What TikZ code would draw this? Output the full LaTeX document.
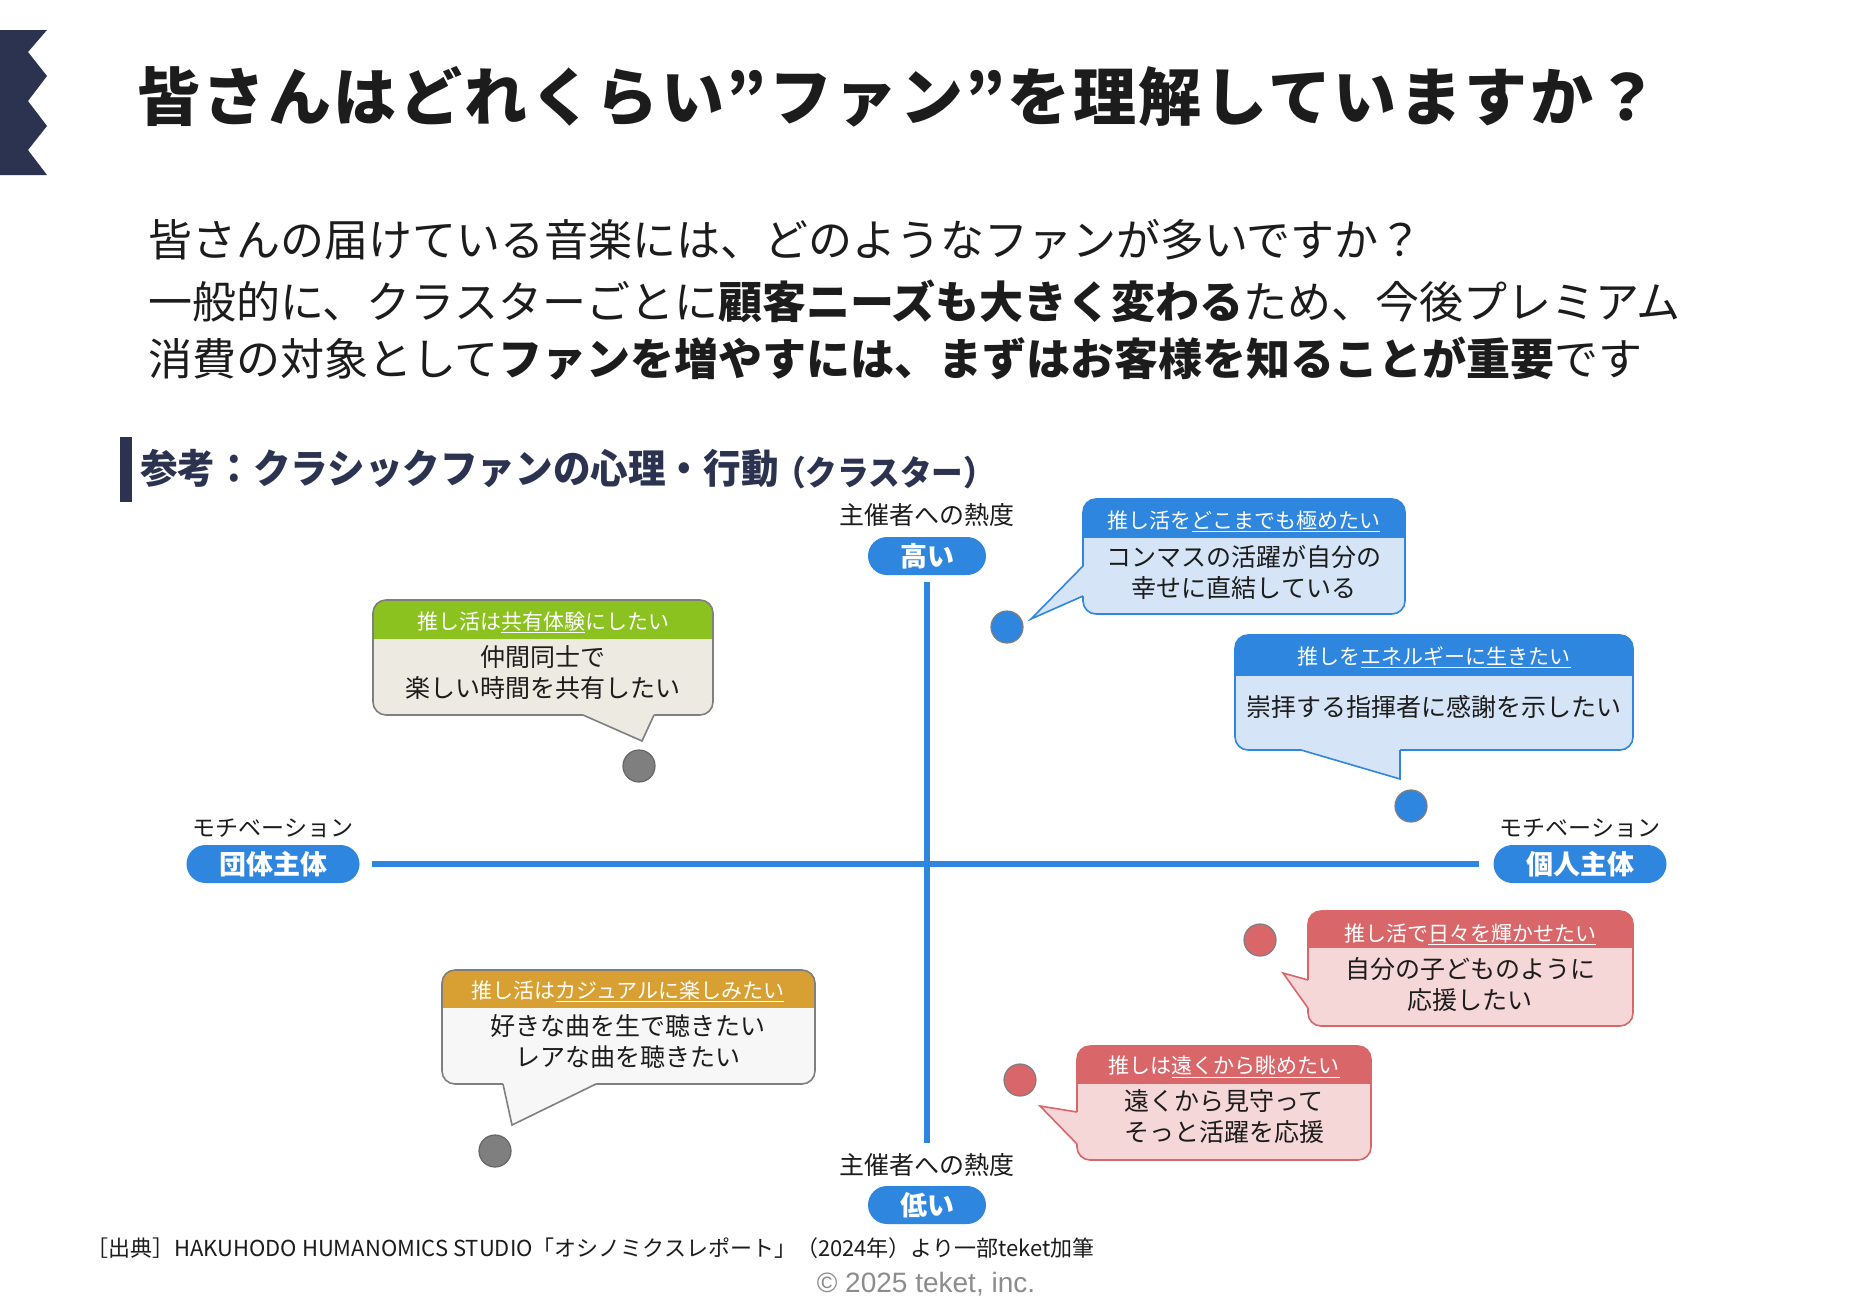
\documentclass[tikz,border=0pt]{standalone}
\usepackage{fontspec}
\setmainfont{Noto Sans CJK JP}
\newfontfamily\arialf{Liberation Sans}
\usetikzlibrary{calc}
\definecolor{axisblue}{HTML}{2F86DF}
\definecolor{navy}{HTML}{2B3350}
\definecolor{bluebody}{HTML}{D5E5F7}
\definecolor{greenhead}{HTML}{8CC21F}
\definecolor{greenbody}{HTML}{EDEAE1}
\definecolor{goldhead}{HTML}{D8A032}
\definecolor{goldbody}{HTML}{F7F7F7}
\definecolor{redhead}{HTML}{D9676A}
\definecolor{redbody}{HTML}{F6D7D8}
\definecolor{bordergray}{HTML}{7F7F7F}
\definecolor{dotgray}{HTML}{7F7F7F}
\definecolor{inkblack}{HTML}{1C1C1C}
\definecolor{copygray}{HTML}{8C8C8C}
\newcommand\fs[2]{\fontsize{#1}{#2}\selectfont}
% box: x1,y1,x2,y2,header bottom, head colour, body colour, border colour
\newcommand\bubblebox[8]{%
  \begin{scope}
    \clip[rounded corners=13pt] (#1,#2) rectangle (#3,#4);
    \fill[#7] (#1,#2) rectangle (#3,#4);
    \fill[#6] (#1,#2) rectangle (#3,#5);
  \end{scope}
  \draw[#8, line width=1.6pt, rounded corners=13pt] (#1,#2) rectangle (#3,#4);
}
% tail: base1, base2, tip, body colour, border colour, inward offset
\newcommand\bubbletail[6]{%
  \fill[#4] ($(#1)+(#6)$) -- (#1) -- (#3) -- (#2) -- ($(#2)+(#6)$) -- cycle;
  \draw[#5, line width=1.6pt, line join=miter] (#1) -- (#3) -- (#2);
}
\tikzset{
  pill/.style={fill=axisblue, rounded corners=19pt, minimum height=38pt, text=white,
    font=\bfseries\fs{27}{30}, inner sep=0pt},
  axislabel/.style={text=inkblack, inner sep=0pt},
  axisline/.style={draw=axisblue, line width=6pt},
  headtext/.style={text=white, inner sep=0pt, font=\fs{21}{24}},
  bodytext/.style={text=inkblack, inner sep=0pt, align=center, font=\fs{25}{31}},
  dotnode/.style={circle, minimum size=32pt, inner sep=0pt, draw=bordergray, line width=1.2pt},
}
\begin{document}
\begin{tikzpicture}[x=1pt, y=-1pt]
\useasboundingbox (0,0) rectangle (1851,1309);
\fill[white] (0,0) rectangle (1851,1309);

% left zigzag bar
\fill[navy] (0,30) -- (47,30) -- (28,52) -- (47,76) -- (28,101) -- (47,126) -- (28,150) -- (47,175) -- (0,175) -- cycle;

% title
\node[anchor=west, inner sep=0pt, text=inkblack, font=\bfseries\fs{63}{70}\addfontfeature{LetterSpace=4}] (title) at (137,97)
  {皆さんはどれくらい”ファン”を理解していますか？};

% subtitle
\node[anchor=west, inner sep=0pt, text=inkblack, font=\fs{44}{56}] (sub1) at (148,240)
  {皆さんの届けている音楽には、どのようなファンが多いですか？};
\node[anchor=west, inner sep=0pt, text=inkblack, font=\fs{44}{56}] (sub2) at (148,301)
  {一般的に、クラスターごとに\textbf{顧客ニーズも大きく変わる}ため、今後プレミアム};
\node[anchor=west, inner sep=0pt, text=inkblack, font=\fs{44}{56}] (sub3) at (148,359)
  {消費の対象として\textbf{ファンを増やすには、まずはお客様を知ることが重要}です};

% section header
\fill[navy] (120,437) rectangle (132,502);
\node[anchor=west, inner sep=0pt, text=navy, font=\bfseries\fs{40}{44}\addfontfeature{FakeStretch=0.94}] (sec) at (140,469)
  {参考：クラシックファンの心理・行動};
\node[anchor=west, inner sep=0pt, text=navy, font=\bfseries\fs{34}{38}\addfontfeature{FakeStretch=0.93}] (secsub) at (774,473)
  {（クラスター）};

% axes
\node[pill, minimum width=118pt] (high) at (927,556) {高い};
\node[pill, minimum width=118pt] (low) at (927,1205) {低い};
\node[pill, minimum width=173pt] (group) at (273,864) {団体主体};
\node[pill, minimum width=173pt] (indiv) at (1580,864) {個人主体};
\node[axislabel, font=\fs{25}{28}] (hightop) at (927,515) {主催者への熱度};
\node[axislabel, font=\fs{25}{28}] (lowtop) at (927,1165) {主催者への熱度};
\node[axislabel, font=\fs{23}{26}] (grouptop) at (273,828) {モチベーション};
\node[axislabel, font=\fs{23}{26}] (indivtop) at (1580,828) {モチベーション};
\coordinate (vtop) at (927,582);
\coordinate (vbot) at (927,1143);
\coordinate (hleft) at (372,864);
\coordinate (hright) at (1479,864);
\draw[axisline] (vtop) -- (vbot);
\draw[axisline] (hleft) -- (hright);

% dots
\node[dotnode, fill=axisblue] (d1) at (1007,627) {};
\node[dotnode, fill=axisblue] (d2) at (1411,806) {};
\node[dotnode, fill=dotgray, draw=gray!80!black] (d3) at (639,766) {};
\node[dotnode, fill=dotgray, draw=gray!80!black] (d4) at (495,1151) {};
\node[dotnode, fill=redhead] (d5) at (1260,940) {};
\node[dotnode, fill=redhead] (d6) at (1020,1080) {};

% bubble 1 (blue, top)
\bubblebox{1083}{499}{1405}{614}{538}{axisblue}{bluebody}{axisblue}
\coordinate (t1a) at (1083,566);
\coordinate (t1b) at (1083,596);
\coordinate (t1c) at (1031,619);
\bubbletail{t1a}{t1b}{t1c}{bluebody}{axisblue}{3,0}
\node[headtext] (h1) at (1244,521) {推し活を\underline{どこまでも極めたい}};
\node[bodytext] (b1) at (1244,572) {コンマスの活躍が自分の\\幸せに直結している};

% bubble 2 (blue, right)
\bubblebox{1235}{635}{1633}{750}{676}{axisblue}{bluebody}{axisblue}
\coordinate (t2a) at (1301,750);
\coordinate (t2b) at (1400,750);
\coordinate (t2c) at (1400,779);
\bubbletail{t2a}{t2b}{t2c}{bluebody}{axisblue}{0,-3}
\node[headtext] (h2) at (1434,657) {推しを\underline{エネルギーに生きたい}};
\node[bodytext] (b2) at (1434,707) {崇拝する指揮者に感謝を示したい};

% bubble 3 (green)
\bubblebox{373}{600}{713}{715}{639}{greenhead}{greenbody}{bordergray}
\coordinate (t3a) at (583,715);
\coordinate (t3b) at (654,715);
\coordinate (t3c) at (642,741);
\bubbletail{t3a}{t3b}{t3c}{greenbody}{bordergray}{0,-3}
\node[headtext] (h3) at (543,622) {推し活は\underline{共有体験}にしたい};
\node[bodytext] (b3) at (543,673) {仲間同士で\\楽しい時間を共有したい};

% bubble 4 (gold)
\bubblebox{442}{970}{815}{1084}{1008}{goldhead}{goldbody}{bordergray}
\coordinate (t4a) at (503,1084);
\coordinate (t4b) at (596,1084);
\coordinate (t4c) at (512,1125);
\bubbletail{t4a}{t4b}{t4c}{goldbody}{bordergray}{0,-3}
\node[headtext] (h4) at (628,991) {推し活は\underline{カジュアルに楽しみたい}};
\node[bodytext] (b4) at (628,1041) {好きな曲を生で聴きたい\\レアな曲を聴きたい};

% bubble 5 (red, right)
\bubblebox{1308}{911}{1633}{1026}{948}{redhead}{redbody}{redhead}
\coordinate (t5a) at (1308,980);
\coordinate (t5b) at (1308,1008);
\coordinate (t5c) at (1283,973);
\bubbletail{t5a}{t5b}{t5c}{redbody}{redhead}{3,0}
\node[headtext] (h5) at (1470,934) {推し活で\underline{日々を輝かせたい}};
\node[bodytext] (b5) at (1470,984) {自分の子どものように\\応援したい};

% bubble 6 (red, bottom)
\bubblebox{1077}{1046}{1371}{1160}{1084}{redhead}{redbody}{redhead}
\coordinate (t6a) at (1077,1112);
\coordinate (t6b) at (1077,1144);
\coordinate (t6c) at (1040,1106);
\bubbletail{t6a}{t6b}{t6c}{redbody}{redhead}{3,0}
\node[headtext] (h6) at (1224,1067) {推しは\underline{遠くから眺めたい}};
\node[bodytext] (b6) at (1224,1117) {遠くから見守って\\そっと活躍を応援};

% source and copyright
\node[anchor=west, inner sep=0pt, text=inkblack, font=\fs{22}{24}] (src) at (86,1248)
  {［出典］HAKUHODO HUMANOMICS STUDIO「オシノミクスレポート」（2024年）より一部teket加筆};
\node[inner sep=0pt, text=copygray, font=\arialf\fs{28}{30}] (copy) at (926,1284)
  {© 2025 teket, inc.};
\end{tikzpicture}
\end{document}
